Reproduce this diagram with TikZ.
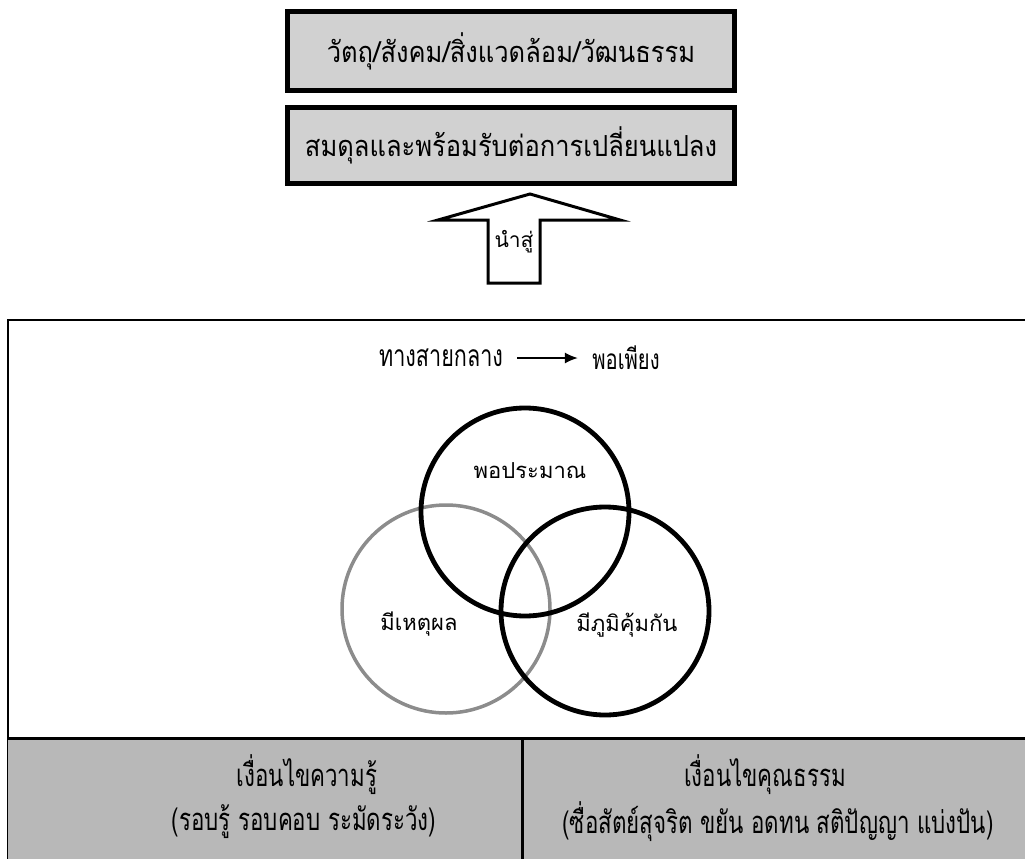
\documentclass[tikz,border=0pt]{standalone}
\usepackage{fontspec}
\newfontfamily\thaifont[Script=Thai]{Loma}
\newfontfamily\thaibox[Script=Thai,FakeStretch=0.88]{Loma}
\newfontfamily\thaitall[Script=Thai,FakeStretch=0.72]{Loma}
\usetikzlibrary{positioning, arrows.meta, calc}
\definecolor{speckle}{gray}{0.82}
\definecolor{bandgray}{gray}{0.72}
\tikzset{head node/.style={draw, line width=5pt, fill=speckle, minimum width=447pt, inner sep=0pt, font=\thaibox\fontsize{29}{33}\selectfont},
	ring/.style={circle, draw, line width=4.8pt, minimum size=208pt, inner sep=0pt},
	ring label/.style={font=\thaifont\fontsize{22}{26}\selectfont},
	band text/.style={font=\thaitall\fontsize{31}{36}\selectfont},}

\begin{document}
\begin{tikzpicture}[x=1pt, y=-1pt]
	\useasboundingbox (0,0) rectangle (1025,859);
	% Boxes
	\node[head node, minimum height=78pt] (1) at (511,51) {วัตถุ/สังคม/สิ่งแวดล้อม/วัฒนธรรม};
	\node[head node, minimum height=76pt] (2) at (511,145) {สมดุลและพร้อมรับต่อการเปลี่ยนแปลง};
	% Lead arrow
	\draw[line width=3pt, fill=white, line join=miter] (488,283) -- (488,220) -- (438,220) -- (530,194) -- (620,220) -- (540,220) -- (540,283) -- cycle;
	\node[ring label, font=\thaifont\fontsize{21}{24}\selectfont] (lead) at (514,242) {นำสู่};
	% Frame
	\draw[line width=2pt] (1040,320) -- (8,320) -- (8,870);
	\fill[bandgray] (8,738) rectangle (1040,870);
	\draw[line width=3pt] (8,738) -- (1040,738);
	\draw[line width=3pt] (522,738) -- (522,870);
	% Middle way
	\node[band text, font=\thaitall\fontsize{30}{34}\selectfont] (mid) at (441,358) {ทางสายกลาง};
	\node[band text, font=\thaitall\fontsize{28}{32}\selectfont] (suff) at (626,358) {พอเพียง};
	\draw[line width=1.5pt, shorten <=11pt, shorten >=11pt, -{Latex[length=13pt, width=11pt]}] (mid) -- (suff);
	% Circles
	\node[ring, draw=black!45, line width=3.5pt] (reason) at (446,609) {};
	\node[ring] (moderate) at (525,512) {};
	\node[ring] (immune) at (605,611) {};
	\node[ring label] at (530,471) {พอประมาณ};
	\node[ring label] at (419,624) {มีเหตุผล};
	\node[ring label] at (627,625) {มีภูมิคุ้มกัน};
	% Conditions
	\node[band text] (know) at (307,775) {เงื่อนไขความรู้};
	\node[band text] (knowsub) at (304,822) {(รอบรู้ รอบคอบ ระมัดระวัง)};
	\node[band text] (virtue) at (765,775) {เงื่อนไขคุณธรรม};
	\node[band text] (virtuesub) at (778,822) {(ซื่อสัตย์สุจริต ขยัน อดทน สติปัญญา แบ่งปัน)};
\end{tikzpicture}
\end{document}
